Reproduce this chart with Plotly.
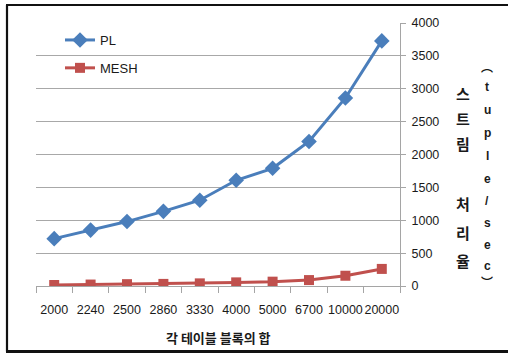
import plotly.graph_objects as go

# Sum of table blocks (category axis)
blocks = ["2000", "2240", "2500", "2860", "3330", "4000", "5000", "6700", "10000", "20000"]
# Stream throughput (tuple/sec)
pl_rate = [720, 850, 980, 1135, 1305, 1608, 1790, 2198, 2860, 3728]
mesh_rate = [15, 22, 28, 32, 40, 55, 66, 90, 156, 260]
y_ticks = [0, 500, 1000, 1500, 2000, 2500, 3000, 3500, 4000]

W, H = 508, 354
ML, MR, MT, MB = 36, 108, 23, 68
PW, PH = W - ML - MR, H - MT - MB


def px(x):
    return (x - ML) / PW


def py(y):
    return (H - MB - y) / PH


LAT = "Liberation Sans, Arial, sans-serif"
KR = "Noto Sans CJK KR"

fig = go.Figure()
fig.add_trace(go.Scatter(
    x=blocks, y=pl_rate, name="PL", mode="lines+markers", legendgroup="a",
    line=dict(color="#4a7ebb", width=3),
    marker=dict(symbol="diamond", size=12, color="#4a7ebb"),
))
fig.add_trace(go.Scatter(
    x=blocks, y=mesh_rate, name="MESH", mode="lines+markers", legendgroup="b",
    line=dict(color="#c0504d", width=3),
    marker=dict(symbol="square", size=10, color="#c0504d"),
))

fig.update_layout(
    width=W, height=H,
    margin=dict(l=ML, r=MR, t=MT, b=MB, autoexpand=False),
    paper_bgcolor="white", plot_bgcolor="white",
    font=dict(family=LAT, size=12.5, color="#1a1a1a"),
    showlegend=True,
    legend=dict(x=px(60), y=py(25), xanchor="left", yanchor="top",
                bgcolor="rgba(0,0,0,0)", tracegroupgap=8,
                font=dict(family=LAT, size=13, color="#1a1a1a"),
                itemwidth=30),
    xaxis=dict(
        type="category", range=[-0.5, 9.5], automargin=False,
        showgrid=False, showline=True, linecolor="#a5a5a5", linewidth=1,
        ticks="outside", tickson="boundaries", ticklen=6, tickcolor="#a5a5a5",
        tickangle=0, ticklabelstandoff=12,
        tickfont=dict(family=LAT, size=12.5, color="#1a1a1a"),
        zeroline=False,
    ),
    yaxis=dict(
        side="right", range=[0, 4000], tickvals=y_ticks, automargin=False,
        showgrid=True, gridcolor="#a8a8a8", gridwidth=1,
        showline=True, linecolor="#a5a5a5", linewidth=1,
        ticks="outside", ticklen=5, tickcolor="#a5a5a5",
        ticklabelstandoff=3,
        tickfont=dict(family=LAT, size=12.5, color="#1a1a1a"),
        zeroline=False,
    ),
)

# Horizontal axis title
fig.add_annotation(text="<b>각 테이블 블록의 합</b>", xref="paper", yref="paper",
                   x=px(218), y=py(337), showarrow=False,
                   xanchor="center", yanchor="middle",
                   font=dict(family=KR, size=13, color="#1a1a1a"))

# Vertical axis title, stacked characters in two columns
col1 = ["스", "트", "림", "처", "리", "율"]
col1_y = [93, 118, 143, 203, 232, 260]
for ch, yy in zip(col1, col1_y):
    fig.add_annotation(text=f"<b>{ch}</b>", xref="paper", yref="paper",
                       x=px(463), y=py(yy), showarrow=False,
                       xanchor="center", yanchor="middle",
                       font=dict(family=KR, size=15, color="#1a1a1a"))

col2 = ["︵", "t", "u", "p", "l", "e", "/", "s", "e", "c", "︶"]
col2_y = [68, 87, 110, 133, 156, 179, 201, 223, 245, 266, 283]
for ch, yy in zip(col2, col2_y):
    fig.add_annotation(text=f"<b>{ch}</b>", xref="paper", yref="paper",
                       x=px(487), y=py(yy), showarrow=False,
                       xanchor="center", yanchor="middle",
                       font=dict(family="Liberation Sans, " + KR, size=12, color="#1a1a1a"))

# Chart frame (left, top, bottom edges)
frame = [((7, 5), (7, 351.5), 2.2), ((6, 5), (520, 5), 2.2), ((6, 351.5), (520, 351.5), 3)]
for (x0, y0), (x1, y1), w in frame:
    fig.add_shape(type="line", xref="paper", yref="paper",
                  x0=px(x0), y0=py(y0), x1=px(x1), y1=py(y1),
                  line=dict(color="#111111", width=w))

fig.write_html("out.html")
